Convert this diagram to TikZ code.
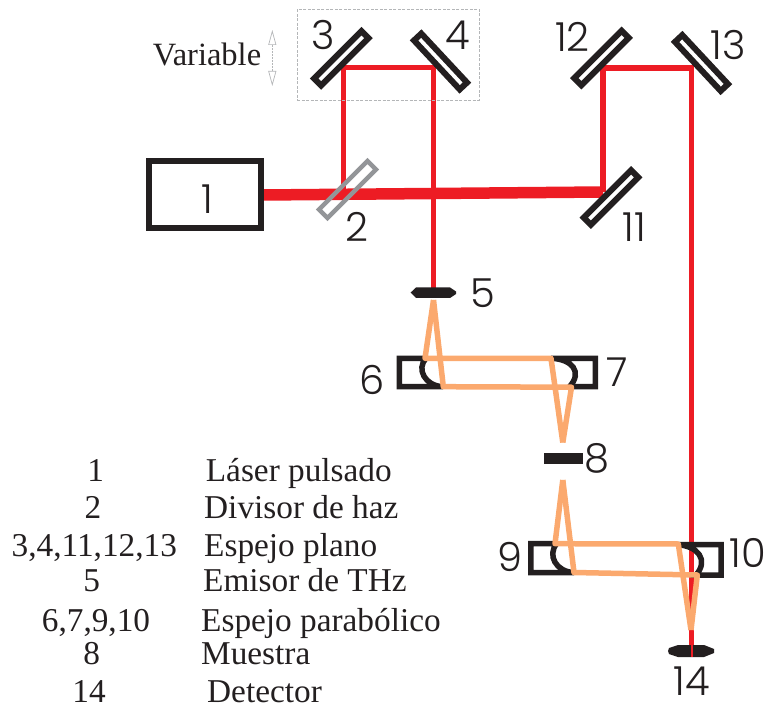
\documentclass[tikz,border=0pt]{standalone}
\usepackage{fontspec}
\setmainfont{Liberation Serif}
\newfontfamily\numfont{Poppins Light}
\usetikzlibrary{arrows.meta}
\definecolor{beamred}{HTML}{ED1C24}
\definecolor{thzorange}{HTML}{FBA96E}
\definecolor{inkblack}{HTML}{231F20}
\definecolor{splitgray}{HTML}{939598}
\definecolor{stagegray}{HTML}{B4B6B8}
\tikzset{
  mirror/.style={draw=inkblack,line width=6pt,minimum width=67pt,minimum height=10pt,inner sep=0pt},
  redbeam/.style={draw=beamred,line width=5.5pt,line join=miter},
  thzbeam/.style={draw=thzorange,line width=5.5pt,line join=round},
  holder/.style={draw=inkblack,line width=5.5pt},
  numlabel/.style={text=inkblack,inner sep=0pt,font=\numfont\fontsize{40}{42}\selectfont},
  legendtext/.style={text=inkblack,inner sep=0pt,font=\fontsize{33.3}{36}\selectfont}
}
\begin{document}
\begin{tikzpicture}[x=1pt,y=-1pt]
  \useasboundingbox (0,0) rectangle (771,708);
  \coordinate (c2) at (343.5,193);
  \coordinate (c3) at (343.5,67.7);
  \coordinate (c4) at (433.3,67.7);
  \coordinate (c5) at (433.3,290);
  \coordinate (c11) at (603,192);
  \coordinate (c12) at (603,68);
  \coordinate (c13) at (691.5,68);
  \coordinate (c14) at (691.5,650);
  \coordinate (laserout) at (263,195);
  % beams
  \draw[beamred,line width=11.5pt] (laserout) -- (c11);
  \draw[redbeam] (c2) -- (c3) -- (c4) -- (c5);
  \draw[redbeam] (c11) -- (c12) -- (c13) -- (c14);
  % source and mirrors
  \node[draw=inkblack,line width=6pt,minimum width=112pt,minimum height=67pt,inner sep=0pt] (laser) at (204.5,195) {};
  \node[draw=splitgray,line width=4.5pt,minimum width=68.6pt,minimum height=12pt,inner sep=0pt,rotate=45] (split) at (347.5,189.5) {};
  \node[mirror,rotate=45] (m3) at (341.3,58.3) {};
  \node[mirror,rotate=-47] (m4) at (440.5,61.5) {};
  \node[mirror,rotate=45] (m11) at (611,197.5) {};
  \node[mirror,rotate=45] (m12) at (601.5,58) {};
  \node[mirror,rotate=-47] (m13) at (701.5,63) {};
  % emitter, sample, detector
  \fill[inkblack] (410.7,292.5) -- (416,287.5) -- (450,287.5) -- (456,291.5) -- (456,294) -- (450,298) -- (416,298) -- cycle;
  \fill[inkblack] (668,651) -- (669,648) -- (678,645) -- (704,645) -- (714,649) -- (714,653) -- (704,657) -- (678,657) -- (669,654) -- cycle;
  \draw[beamred,line width=2pt] (691.5,630) -- (691.5,657);
  \node[fill=inkblack,minimum width=38.7pt,minimum height=10.7pt,inner sep=0pt] (sample) at (563.3,458.7) {};
  % parabolic holders
  \draw[holder] (426,358.3) -- (399.3,358.3) -- (399.3,386.7) -- (443,386.7) .. controls (425,386) and (416,369) .. (426,358.3);
  \draw[holder] (551,358.3) -- (595.3,358.3) -- (595.3,386.7) -- (569.5,386.7) .. controls (583,372) and (572,359) .. (551,358.3);
  \draw[holder] (556.7,543.7) -- (530.8,543.7) -- (530.8,572.5) -- (574,572.5) .. controls (556,572) and (547,555) .. (556.7,543.7);
  \draw[holder] (677.3,544.6) -- (721,544.6) -- (721,575) -- (696,575) .. controls (709,560) and (698,546) .. (677.3,544.6);
  % THz path
  \coordinate (e5) at (433.5,300);
  \coordinate (s8a) at (562.8,442.5);
  \coordinate (s8b) at (562.8,480);
  \coordinate (f14) at (691,630);
  \draw[thzbeam] (e5) -- (425,358.3) -- (551,358.3) -- (s8a);
  \draw[thzbeam] (s8a) -- (571.5,387.2) -- (443.3,386.7) -- (e5);
  \draw[thzbeam] (s8b) -- (555,543.7) -- (678.3,544) -- (f14);
  \draw[thzbeam] (f14) -- (697.3,575) -- (574,572.5) -- (s8b);
  % variable stage
  \draw[stagegray,line width=0.7pt,dash pattern=on 3pt off 1.5pt] (297.7,9.3) rectangle (479,100);
  \coordinate (vartop) at (272.3,30);
  \coordinate (varbot) at (272.3,86);
  \draw[stagegray,line width=0.7pt,dash pattern=on 2pt off 1pt,{Triangle[open,length=15pt,width=8pt]}-{Triangle[open,length=15pt,width=8pt]}] (vartop) -- (varbot);
  \node[legendtext,font=\fontsize{32.5}{36}\selectfont,anchor=base] (variable) at (207,66) {Variable};
  % numbers on the figure
  \foreach \num/\xn/\yn in {1/207/199,2/357/227,3/323/35,4/458/35,5/483/293,6/372/380,7/617/372,8/597/458,9/510/557,10/748/553,11/634.5/227,12/572.5/37,13/728/45,14/692/681}
    \node[numlabel] (lab\num) at (\xn,\yn) {\num};
  % legend
  \foreach \i/\xa/\nums/\xb/\txt/\yl in {
    1/95.7/1/205.7/L\'aser pulsado/481.7,
    2/93/2/204/Divisor de haz/518.3,
    3/94.3/{3,4,11,12,13}/204/Espejo plano/556.7,
    4/91.7/5/203/Emisor de THz/591.7,
    5/96/{6,7,9,10}/201/Espejo parab\'olico/631,
    6/91.7/8/201/Muestra/664,
    7/89/14/207/Detector/702.5}{
    \node[legendtext,anchor=base] (num\i) at (\xa,\yl) {\nums};
    \node[legendtext,anchor=base west] (txt\i) at (\xb,\yl) {\txt};
  }
\end{tikzpicture}
\end{document}
